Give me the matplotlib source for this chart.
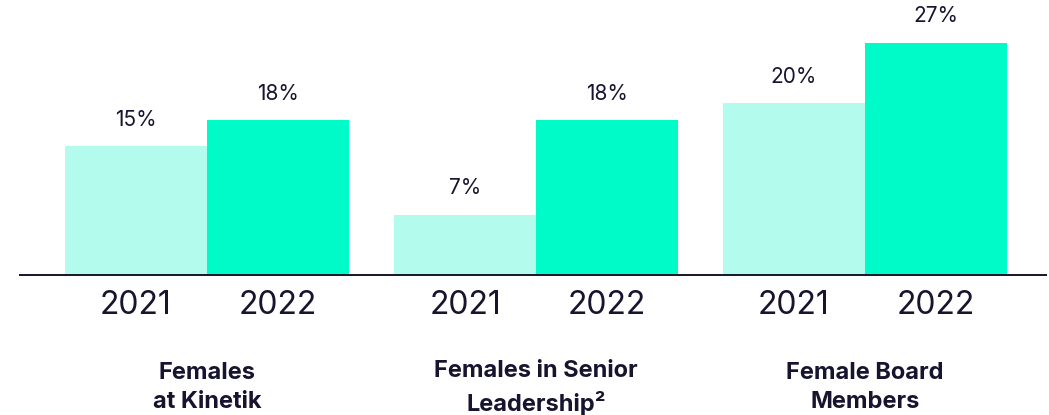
import numpy as np
import matplotlib.pyplot as plt

# data
groups = ["Females\nat Kinetik", "Females in Senior\nLeadership²", "Female Board\nMembers"]
years = ["2021", "2022"]
vals_2021 = [15, 7, 20]
vals_2022 = [18, 18, 27]

c21 = "#b3fbec"
c22 = "#00fbc8"
ink = "#16142e"

plt.rcParams['font.family'] = ['Inter', 'DejaVu Sans']

fig = plt.figure(figsize=(10.49, 4.15), dpi=100)
# axes: bottom is the baseline, full figure width
ax = fig.add_axes([0, 140 / 415, 1, 275 / 415])
ax.set_xlim(-207 / 329, (1049 - 207) / 329)
ax.set_ylim(0, 275 / 8.6)
ax.axis("off")

w = 142 / 329
x = np.arange(len(groups))
b1 = ax.bar(x - w / 2, vals_2021, w, color=c21, zorder=2)
b2 = ax.bar(x + w / 2, vals_2022, w, color=c22, zorder=2)

# baseline
ax.plot([(19 - 207) / 329, (1047 - 207) / 329], [0, 0], color=ink, lw=1.4,
        clip_on=False, zorder=3, solid_capstyle="butt")

for bars, vals in [(b1, vals_2021), (b2, vals_2022)]:
    for r, v in zip(bars, vals):
        ax.annotate(f"{v}%", (r.get_x() + r.get_width() / 2, v),
                    xytext=(0, 19), textcoords="offset points",
                    ha="center", va="center", fontsize=15,
                    color=ink)

# year labels and group labels
for i, g in enumerate(groups):
    for j, yr in enumerate(years):
        ax.annotate(yr, (i + (j - 0.5) * w, 0), xytext=(0, -22),
                    textcoords="offset points", ha="center", va="center",
                    fontsize=23, color=ink, annotation_clip=False)
    ax.annotate(g, (i, 0), xytext=(0, -81), textcoords="offset points",
                ha="center", va="center", fontsize=17, fontweight="bold",
                color=ink, linespacing=1.45, annotation_clip=False)

fig.savefig("out.png", dpi=100)
